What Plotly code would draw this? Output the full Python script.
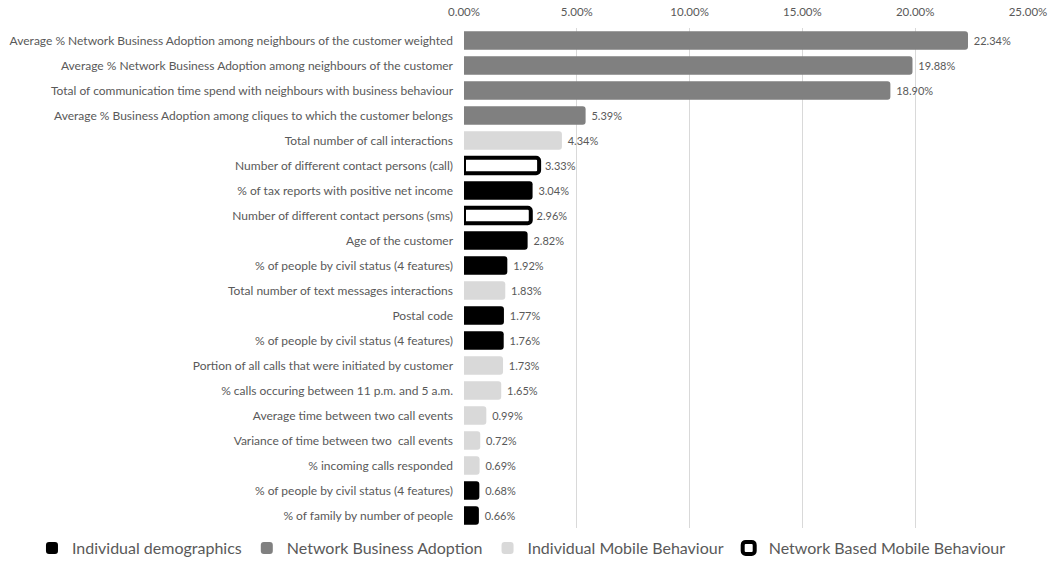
import plotly.graph_objects as go

# Feature importance of each predictor, grouped by feature family
features = [
    "Average % Network Business Adoption among neighbours of the customer weighted",
    "Average % Network Business Adoption among neighbours of the customer",
    "Total of communication time spend with neighbours with business behaviour",
    "Average % Business Adoption among cliques to which the customer belongs",
    "Total number of call interactions",
    "Number of different contact persons (call)",
    "% of tax reports with positive net income",
    "Number of different contact persons (sms)",
    "Age of the customer",
    "% of people by civil status (4 features)",
    "Total number of text messages interactions",
    "Postal code",
    "% of people by civil status (4 features)",
    "Portion of all calls that were initiated by customer",
    "% calls occuring between 11 p.m. and 5 a.m.",
    "Average time between two call events",
    "Variance of time between two  call events",
    "% incoming calls responded",
    "% of people by civil status (4 features)",
    "% of family by number of people",
]
importance = [22.34, 19.88, 18.90, 5.39, 4.34, 3.33, 3.04, 2.96, 2.82, 1.92,
              1.83, 1.77, 1.76, 1.73, 1.65, 0.99, 0.72, 0.69, 0.68, 0.66]
groups = ["NBA", "NBA", "NBA", "NBA", "IMB", "NBMB", "ID", "NBMB", "ID", "ID",
          "IMB", "ID", "ID", "IMB", "IMB", "IMB", "IMB", "IMB", "ID", "ID"]
x_ticks = [0, 5, 10, 15, 20, 25]

group_order = ["ID", "NBA", "IMB", "NBMB"]
group_names = {
    "ID": "Individual demographics",
    "NBA": "Network Business Adoption",
    "IMB": "Individual Mobile Behaviour",
    "NBMB": "Network Based Mobile Behaviour",
}
group_style = {
    "ID": dict(color="#000000", line=dict(width=0)),
    "NBA": dict(color="#808080", line=dict(width=0)),
    "IMB": dict(color="#d9d9d9", line=dict(width=0)),
    "NBMB": dict(color="#ffffff", line=dict(color="#000000", width=4)),
}

TEXT = "#595959"
FONT = "Lato, 'Open Sans', sans-serif"

fig = go.Figure()
for g in group_order:
    idx = [i for i, gg in enumerate(groups) if gg == g]
    fig.add_trace(go.Bar(
        name=group_names[g],
        orientation="h",
        y=idx,
        x=[importance[i] / 100 for i in idx],
        width=0.74 if g != "NBMB" else 0.62,
        marker=dict(cornerradius=3, **group_style[g]),
        text=[f" {importance[i]:.2f}%" for i in idx],
        textposition="outside",
        textfont=dict(size=11, color=TEXT, family=FONT),
        cliponaxis=False,
        hovertemplate="%{x:.2%}<extra></extra>",
    ))

fig.update_layout(
    width=1051,
    height=585,
    margin=dict(l=464, r=23, t=28, b=57),
    paper_bgcolor="white",
    plot_bgcolor="white",
    barmode="overlay",
    font=dict(family=FONT, color=TEXT, size=11),
    legend=dict(
        orientation="h",
        x=-0.766, xref="paper", xanchor="left",
        y=-0.006, yanchor="top",
        font=dict(size=16, color=TEXT, family=FONT),
        traceorder="normal",
        itemwidth=30,
    ),
    showlegend=True,
)
fig.update_xaxes(
    side="top",
    range=[0, 0.25],
    tickvals=[t / 100 for t in x_ticks],
    ticktext=[f"{t:.2f}%" for t in x_ticks],
    showgrid=True,
    gridcolor="#d9d9d9",
    gridwidth=1,
    zeroline=False,
    showline=False,
    tickfont=dict(size=11.5, color=TEXT),
    ticks="",
    ticklabelstandoff=9,
    automargin=False,
)
fig.update_yaxes(
    tickvals=list(range(len(features))),
    ticktext=features,
    range=[len(features) - 0.5, -0.5],
    showgrid=False,
    zeroline=False,
    showline=False,
    tickfont=dict(size=12, color=TEXT),
    ticks="",
    ticklabelstandoff=10,
    automargin=False,
)

fig.write_html("out.html")
